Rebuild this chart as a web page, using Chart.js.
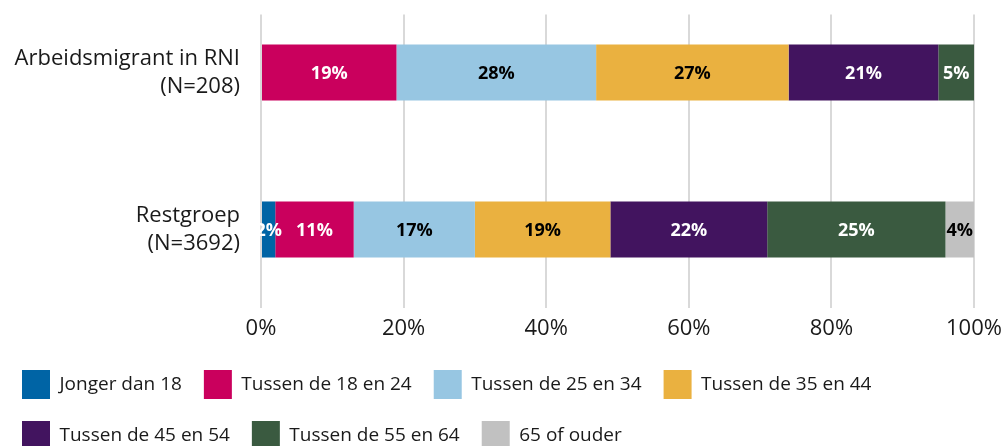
<!DOCTYPE html>
<html>
<head>
<meta charset="utf-8">
<script src="https://cdn.jsdelivr.net/npm/chart.js@4/dist/chart.umd.min.js"></script>
<style>
    html, body { margin: 0; padding: 0; background: #ffffff; overflow: hidden; }
    #chartBox { position: relative; width: 1005px; height: 452px; margin-top: -6px; }
</style>
</head>
<body>
<div id="chartBox"><canvas id="myChart"></canvas></div>
<script>
'use strict';

// Groups (y axis)
var groups = [
    ['Arbeidsmigrant in RNI', '(N=208)'],
    ['Restgroep', '(N=3692)']
];

// Age classes
var ageClasses = ['Jonger dan 18', 'Tussen de 18 en 24', 'Tussen de 25 en 34', 'Tussen de 35 en 44',
    'Tussen de 45 en 54', 'Tussen de 55 en 64', '65 of ouder'];
var ageColours = ['#0064A5', '#CA005D', '#97C6E2', '#EAB140', '#42145F', '#3A5A40', '#C1C1C1'];
var labelColours = ['#ffffff', '#ffffff', '#000000', '#000000', '#ffffff', '#ffffff', '#000000'];

// Percentages per age class: [Arbeidsmigrant in RNI, Restgroep]
var jongerDan18 = [0, 2];
var tussen18en24 = [19, 11];
var tussen25en34 = [28, 17];
var tussen35en44 = [27, 19];
var tussen45en54 = [21, 22];
var tussen55en64 = [5, 25];
var ouder65 = [0, 4];

var xTicks = [0, 20, 40, 60, 80, 100];

var seriesValues = [jongerDan18, tussen18en24, tussen25en34, tussen35en44, tussen45en54, tussen55en64, ouder65];

var datasets = [];
for (var i = 0; i < ageClasses.length; i++) {
    datasets.push({
        label: ageClasses[i],
        data: seriesValues[i],
        backgroundColor: ageColours[i],
        borderWidth: 0,
        categoryPercentage: 1,
        barPercentage: 0.357
    });
}

// The source picture is cropped at the top: gridlines only start a bit below the edge
var topMask = {
    id: 'topMask',
    beforeDatasetsDraw: function (chart) {
        var ctx = chart.ctx;
        ctx.save();
        ctx.fillStyle = '#ffffff';
        ctx.fillRect(0, 0, chart.width, chart.chartArea.top + 20.5);
        ctx.restore();
    }
};

// Draw the percentage inside each segment
var segmentLabels = {
    id: 'segmentLabels',
    afterDatasetsDraw: function (chart) {
        var ctx = chart.ctx;
        ctx.save();
        ctx.font = 'bold 18px "Open Sans"';
        ctx.textAlign = 'center';
        ctx.textBaseline = 'middle';
        chart.data.datasets.forEach(function (dataset, d) {
            var meta = chart.getDatasetMeta(d);
            meta.data.forEach(function (bar, j) {
                var value = dataset.data[j];
                if (!value) {
                    return;
                }
                ctx.fillStyle = labelColours[d];
                ctx.fillText(value + '%', (bar.x + bar.base) / 2, bar.y + 1);
            });
        });
        ctx.restore();
    }
};

// Stop the axes from adding room for their outer labels
function noScalePadding(scale) {
    scale.paddingTop = 0;
    scale.paddingBottom = 0;
    scale.paddingLeft = 0;
    scale.paddingRight = 0;
}

var chart = new Chart(document.getElementById('myChart'), {
    type: 'bar',
    data: {
        labels: groups,
        datasets: datasets
    },
    options: {
        indexAxis: 'y',
        responsive: true,
        maintainAspectRatio: false,
        animation: false,
        layout: {
            padding: { top: -7, right: 31, bottom: -14, left: 0 }
        },
        plugins: {
            tooltip: { enabled: false },
            legend: {
                position: 'bottom',
                align: 'start',
                labels: {
                    boxWidth: 28,
                    boxHeight: 29,
                    padding: 22,
                    color: '#1a1a1a',
                    font: { family: 'Open Sans', size: 19 }
                }
            }
        },
        scales: {
            x: {
                stacked: true,
                min: 0,
                max: 100,
                afterBuildTicks: function (scale) {
                    scale.ticks = xTicks.map(function (v) { return { value: v }; });
                },
                afterFit: function (scale) {
                    noScalePadding(scale);
                    scale.height = 40;
                },
                grid: {
                    color: '#D9D9D9',
                    lineWidth: 2,
                    drawTicks: false
                },
                border: { display: false },
                ticks: {
                    padding: 8,
                    color: '#1a1a1a',
                    font: { family: 'Open Sans', size: 22 },
                    callback: function (value) {
                        return value + '%';
                    }
                }
            },
            y: {
                stacked: true,
                afterFit: function (scale) {
                    noScalePadding(scale);
                    scale.width = 261;
                },
                grid: { display: false, drawTicks: false },
                border: { display: false },
                ticks: {
                    padding: 21,
                    color: '#1a1a1a',
                    font: { family: 'Open Sans', size: 22, lineHeight: 1.27 }
                }
            }
        }
    },
    plugins: [topMask, segmentLabels]
});
</script>
</body>
</html>
